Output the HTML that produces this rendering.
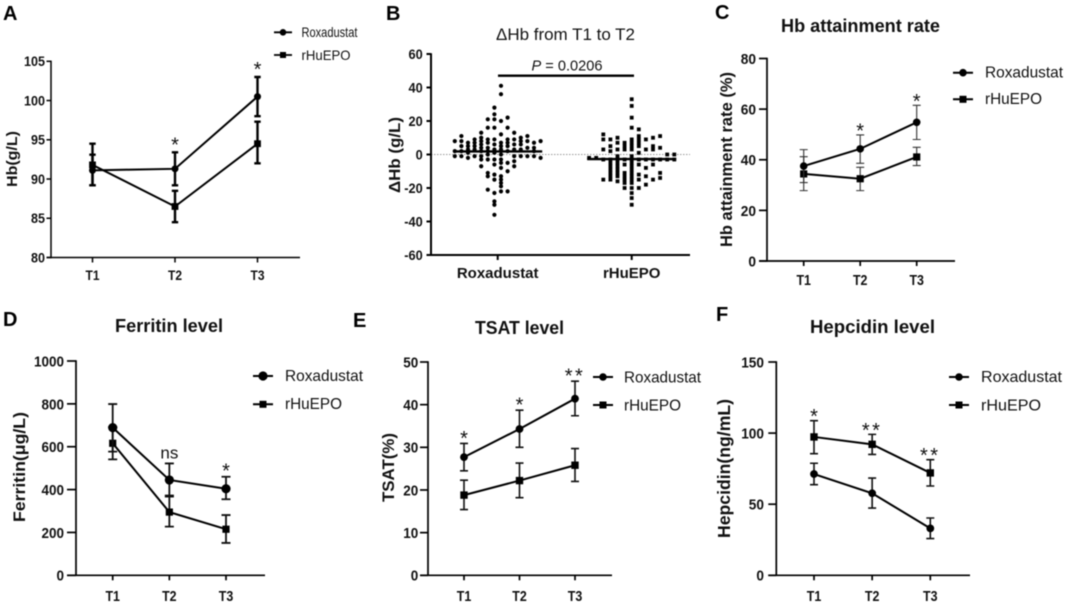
<!DOCTYPE html>
<html lang="en">
<head>
<meta charset="utf-8">
<title>Roxadustat vs rHuEPO</title>
<style>
html,body{margin:0;padding:0;background:#fff;}
#figure{display:block;width:1065px;height:604px;filter:blur(0.4px);}
text{font-family:"Liberation Sans",sans-serif;fill:#111;}
.letter{font-size:20px;font-weight:bold;fill:#000;}
.title{font-size:18px;font-weight:bold;text-anchor:middle;}
.ytitle{font-weight:bold;text-anchor:middle;}
.legend-text{font-size:16px;}
</style>
</head>
<body>
<svg id="figure" xmlns="http://www.w3.org/2000/svg" width="1065" height="604" viewBox="0 0 1065 604">
  <rect x="0" y="0" width="1065" height="604" fill="#fff"/>

  <text class="letter" x="3" y="20">A</text>
  <text class="letter" x="386" y="20">B</text>
  <text class="letter" x="715" y="19">C</text>
  <text class="letter" x="3" y="326">D</text>
  <text class="letter" x="353" y="327">E</text>
  <text class="letter" x="716" y="321">F</text>

  <text x="565.5" y="40" font-size="17" text-anchor="middle" textLength="139" lengthAdjust="spacingAndGlyphs">ΔHb from T1 to T2</text>
  <text class="title" x="860.5" y="32" textLength="159" lengthAdjust="spacingAndGlyphs">Hb attainment rate</text>
  <text class="title" x="169" y="332" textLength="108" lengthAdjust="spacingAndGlyphs">Ferritin level</text>
  <text class="title" x="519.5" y="334" textLength="89" lengthAdjust="spacingAndGlyphs">TSAT level</text>
  <text class="title" x="872.5" y="333" textLength="125" lengthAdjust="spacingAndGlyphs">Hepcidin level</text>

  <text class="ytitle" font-size="15" transform="translate(17,159) rotate(-90)" textLength="56" lengthAdjust="spacingAndGlyphs">Hb(g/L)</text>
  <text class="ytitle" font-size="16" transform="translate(400,155) rotate(-90)" textLength="76" lengthAdjust="spacingAndGlyphs">ΔHb (g/L)</text>
  <text class="ytitle" font-size="16.5" transform="translate(732,159.5) rotate(-90)" textLength="175" lengthAdjust="spacingAndGlyphs">Hb attainment rate (%)</text>
  <text class="ytitle" font-size="17" transform="translate(25,467) rotate(-90)" textLength="110" lengthAdjust="spacingAndGlyphs">Ferritin(μg/L)</text>
  <text class="ytitle" font-size="16.5" transform="translate(394,467.5) rotate(-90)" textLength="69" lengthAdjust="spacingAndGlyphs">TSAT(%)</text>
  <text class="ytitle" font-size="17.5" transform="translate(730,468.5) rotate(-90)" textLength="139" lengthAdjust="spacingAndGlyphs">Hepcidin(ng/mL)</text>

  <text x="567" y="70.7" font-size="15" text-anchor="middle" textLength="71" lengthAdjust="spacingAndGlyphs"><tspan font-style="italic">P</tspan> = 0.0206</text>
  <rect x="498" y="74.5" width="136" height="2.4" fill="#000"/>

  <g>
    <g>
      <line x1="274" x2="292" y1="32.3" y2="32.3" stroke="#000" stroke-width="1.8"/><circle cx="283" cy="32.3" r="3.3" fill="#000"/>
      <text x="301.5" y="37" font-size="14" textLength="56" lengthAdjust="spacingAndGlyphs">Roxadustat</text>
    </g>
    <g>
      <line x1="274" x2="292" y1="55" y2="55" stroke="#000" stroke-width="1.8"/><rect x="280" y="52" width="6" height="6" fill="#000"/>
      <text x="301.5" y="60" font-size="14" textLength="49" lengthAdjust="spacingAndGlyphs">rHuEPO</text>
    </g>
  </g>
  <g>
    <g>
      <line x1="953" x2="973" y1="72.7" y2="72.7" stroke="#000" stroke-width="2"/><circle cx="963" cy="72.7" r="3.8" fill="#000"/>
      <text class="legend-text" x="985" y="77.5" textLength="78" lengthAdjust="spacingAndGlyphs">Roxadustat</text>
    </g>
    <g>
      <line x1="953" x2="973" y1="99.3" y2="99.3" stroke="#000" stroke-width="2"/><rect x="959.5" y="95.8" width="7" height="7" fill="#000"/>
      <text class="legend-text" x="985" y="104" textLength="57" lengthAdjust="spacingAndGlyphs">rHuEPO</text>
    </g>
  </g>
  <g>
    <g>
      <line x1="253" x2="273" y1="376" y2="376" stroke="#000" stroke-width="2"/><circle cx="263" cy="376" r="4.6" fill="#000"/>
      <text class="legend-text" x="285" y="381" textLength="78" lengthAdjust="spacingAndGlyphs">Roxadustat</text>
    </g>
    <g>
      <line x1="253" x2="273" y1="404.3" y2="404.3" stroke="#000" stroke-width="2"/><rect x="259.5" y="400.8" width="7" height="7" fill="#000"/>
      <text class="legend-text" x="285" y="409" textLength="57" lengthAdjust="spacingAndGlyphs">rHuEPO</text>
    </g>
  </g>
  <g>
    <g>
      <line x1="593" x2="613" y1="377" y2="377" stroke="#000" stroke-width="2"/><circle cx="603" cy="377" r="3.8" fill="#000"/>
      <text class="legend-text" x="624" y="382.5" textLength="77" lengthAdjust="spacingAndGlyphs">Roxadustat</text>
    </g>
    <g>
      <line x1="593" x2="613" y1="405" y2="405" stroke="#000" stroke-width="2"/><rect x="599.5" y="401.5" width="7" height="7" fill="#000"/>
      <text class="legend-text" x="624" y="410.5" textLength="57" lengthAdjust="spacingAndGlyphs">rHuEPO</text>
    </g>
  </g>
  <g>
    <g>
      <line x1="949" x2="969" y1="377" y2="377" stroke="#000" stroke-width="2"/><circle cx="959" cy="377" r="3.8" fill="#000"/>
      <text class="legend-text" x="981" y="382" textLength="81" lengthAdjust="spacingAndGlyphs">Roxadustat</text>
    </g>
    <g>
      <line x1="949" x2="969" y1="405" y2="405" stroke="#000" stroke-width="2"/><rect x="955.5" y="401.5" width="7" height="7" fill="#000"/>
      <text class="legend-text" x="981" y="410.5" textLength="60" lengthAdjust="spacingAndGlyphs">rHuEPO</text>
    </g>
  </g>
</svg>
<script>
// ---- Shared categories ----
var timeCategories = ['T1', 'T2', 'T3'];

// ---- Panel A: Hb ----
var aTicks = [80, 85, 90, 95, 100, 105];
var aRoxMean = [91.1, 91.3, 100.5];
var aRoxUpper = [93.1, 93.4, 103];
var aRoxLower = [89.2, 89.2, 98];
var aEpoMean = [91.8, 86.5, 94.5];
var aEpoUpper = [94.5, 88.5, 97.3];
var aEpoLower = [89.2, 84.5, 92];
var aMarks = ['', '*', '*'];

// ---- Panel C: Hb attainment rate ----
var cTicks = [0, 20, 40, 60, 80];
var cRoxMean = [37.5, 44.3, 54.8];
var cRoxUpper = [44, 49.8, 61.5];
var cRoxLower = [31, 38.6, 48];
var cEpoMean = [34.4, 32.5, 41.1];
var cEpoUpper = [41.2, 37, 44.9];
var cEpoLower = [27.8, 27.8, 37.7];
var cMarks = ['', '*', '*'];

// ---- Panel D: Ferritin ----
var dTicks = [0, 200, 400, 600, 800, 1000];
var dRoxMean = [689, 445, 404];
var dRoxUpper = [799, 522, 460];
var dRoxLower = [577, 367, 355];
var dEpoMean = [616, 295, 215];
var dEpoUpper = [691, 372, 281];
var dEpoLower = [541, 227, 151];
var dMarks = ['', 'ns', '*'];

// ---- Panel E: TSAT ----
var eTicks = [0, 10, 20, 30, 40, 50];
var eRoxMean = [27.7, 34.3, 41.4];
var eRoxUpper = [30.9, 38.7, 45.5];
var eRoxLower = [24.5, 30, 37.4];
var eEpoMean = [18.8, 22.2, 25.8];
var eEpoUpper = [22.3, 26.3, 29.7];
var eEpoLower = [15.4, 18.2, 22];
var eMarks = ['*', '*', '**'];

// ---- Panel F: Hepcidin ----
var fTicks = [0, 50, 100, 150];
var fRoxMean = [71.2, 57.7, 33];
var fRoxUpper = [78.8, 68.4, 40.3];
var fRoxLower = [63.7, 47.3, 25.8];
var fEpoMean = [97.3, 92.1, 72];
var fEpoUpper = [108.7, 99.1, 81.3];
var fEpoLower = [85.5, 85, 62.8];
var fMarks = ['*', '**', '**'];

// ---- Panel B: individual change in Hb, one inner list per swarm column ----
var bCategories = ['Roxadustat', 'rHuEPO'];
var bTicks = [-60, -40, -20, 0, 20, 40, 60];
var bRoxMedian = 1.8;
var bEpoMedian = -2.7;
var bRoxColumns = [
  [8, 2, -1],
  [11, 8, 5, 2, -1],
  [7, 5, 3, 1, -2],
  [9, 7, 5, 3, -1],
  [13, 10, 8, 6, 4, 2, -1, -3, -7],
  [21, 16, 9, 7, 4, 2, 0, -3, -11, -13, -21],
  [28, 24, 21, 16, 9, 6, 3, 1, -3, -6, -12, -15, -23, -28, -30, -36],
  [41, 36, 20, 12, 7, 5, 3, 0, -3, -5, -8, -13, -15, -17, -19, -22],
  [22, 16, 9, 7, 5, 2, -5, -10, -22],
  [13, 9, 6, 3, -1, -4, -7],
  [10, 8, 6, 3, -1],
  [11, 8, 4, -1],
  [7, 4, 2, -1],
  [8, -2]
];
var bEpoColumns = [
  [-2],
  [-2],
  [12, 9, 3, -3, -15],
  [9, 5, 2, -3, -5, -7, -9, -11, -13, -15],
  [10, 7, 3, -1, -3, -5, -7, -9, -11, -13, -16],
  [7, 5, 3, -3, -6, -11, -13, -15, -17, -20],
  [33, 29, 22, 16, 9, 7, 5, 3, -1, -3, -5, -7, -9, -11, -13, -15, -17, -20, -23, -26, -30],
  [15, 11, 9, 7, 5, 1, -3, -6, -12, -15, -20],
  [9, 3, -3, -8, -13, -18],
  [10, 5, 3, -3, -6, -15],
  [11, 4, -3, -11, -14],
  [0, -3],
  [0, -3]
];

var SVG_NS = 'http://www.w3.org/2000/svg';
var figure = document.getElementById('figure');
var INK = '#000';

function setAll(el, attrs) {
  for (var k in attrs) { el.setAttribute(k, attrs[k]); }
  return el;
}
function make(tag, parent, attrs) {
  var el = document.createElementNS(SVG_NS, tag);
  setAll(el, attrs);
  parent.appendChild(el);
  return el;
}
function linearScale(d0, d1, r0, r1) {
  return function (v) { return r0 + (v - d0) * (r1 - r0) / (d1 - d0); };
}
function tickTextWidth(value, charW) {
  var s = String(value);
  var digits = s.replace('-', '').length;
  return digits * charW + (s.charAt(0) === '-' ? charW * 0.6 : 0);
}

function drawAxes(p, group, yScale, xScale, ticks, cats) {
  var yAxis = make('line', group, {x1: p.axisX, x2: p.axisX, y1: p.yTop - 0.7, y2: p.yBottom + 0.7, stroke: INK, 'stroke-width': p.axisW});
  
  
  var xAxis = make('line', group, {x1: p.axisX - p.tickLen, x2: p.axisEnd, y1: p.yBottom, y2: p.yBottom, stroke: INK, 'stroke-width': p.axisW});
  
  
  ticks.forEach(function (t) {
    var y = yScale(t);
    var tick = make('line', group, {x1: p.axisX - p.tickLen, x2: p.axisX, y1: y, y2: y, stroke: INK, 'stroke-width': p.axisW});
    
    
    var label = make('text', group, {x: p.labelRight, y: y + p.tickFont * 0.36, 'font-size': p.tickFont, 'font-weight': 'bold', 'text-anchor': 'end', textLength: tickTextWidth(t, p.digitW), lengthAdjust: 'spacingAndGlyphs'});
    
    
    label.textContent = t;
  });
  cats.forEach(function (c, i) {
    var x = xScale(i);
    var tick = make('line', group, {x1: x, x2: x, y1: p.yBottom, y2: p.yBottom + 5, stroke: INK, 'stroke-width': p.axisW});
    
    
    var label = make('text', group, {x: x, y: p.catBase, 'font-size': p.catFont, 'font-weight': 'bold', 'text-anchor': 'middle'});
    if (p.catW) {
      label.setAttribute('textLength', p.catW);
      label.setAttribute('lengthAdjust', 'spacingAndGlyphs');
    }
    
    
    label.textContent = c;
  });
}

function drawSeries(p, group, name, shape, mean, upper, lower, xScale, yScale) {
  var series = make('g', group, {});
  
  
  var pts = mean.map(function (v, i) { return xScale(i) + ',' + yScale(v); }).join(' ');
  var line = make('polyline', series, {points: pts, fill: 'none', stroke: INK, 'stroke-width': p.lineW});
  
  
  mean.forEach(function (v, i) {
    var x = xScale(i);
    var yU = yScale(upper[i]);
    var yL = yScale(lower[i]);
    var err = make('path', series, {d: 'M' + x + ' ' + yU + 'V' + yL + 'M' + (x - p.capHalf) + ' ' + yU + 'H' + (x + p.capHalf) + 'M' + (x - p.capHalf) + ' ' + yL + 'H' + (x + p.capHalf), fill: 'none', stroke: p.errColor, 'stroke-width': p.errW});
    
    
    var marker;
    if (shape === 'circle') {
      marker = make('circle', series, {cx: x, cy: yScale(v), r: p.dotR, fill: INK});
    } else {
      marker = make('rect', series, {x: x - p.squareHalf, y: yScale(v) - p.squareHalf, width: p.squareHalf * 2, height: p.squareHalf * 2, fill: INK});
    }
    
    
  });
}

function drawLinePanel(p, ticks, roxMean, roxUpper, roxLower, epoMean, epoUpper, epoLower, marks) {
  var group = make('g', figure, {});
  
  
  var yScale = linearScale(ticks[0], ticks[ticks.length - 1], p.yBottom, p.yTop);
  var xScale = linearScale(0, timeCategories.length - 1, p.xFirst, p.xLast);
  drawAxes(p, group, yScale, xScale, ticks, timeCategories);
  drawSeries(p, group, 'rhuepo', 'square', epoMean, epoUpper, epoLower, xScale, yScale);
  drawSeries(p, group, 'roxadustat', 'circle', roxMean, roxUpper, roxLower, xScale, yScale);
  marks.forEach(function (m, i) {
    if (!m) { return; }
    var top = yScale(Math.max(roxUpper[i], epoUpper[i]));
    var isNs = m === 'ns';
    var mark = make('text', group, {x: xScale(i), y: isNs ? top - 5 : top - p.starGap + 10, 'font-size': isNs ? 17 : 20, 'text-anchor': 'middle'});
    if (m === '**') { mark.setAttribute('letter-spacing', '2.5'); }
    
    
    mark.textContent = m;
  });
}

function drawSwarm(group, name, shape, columns, center, spacing, yScale) {
  var swarm = make('g', group, {});
  
  
  columns.forEach(function (col, c) {
    var x = center + (c - (columns.length - 1) / 2) * spacing;
    col.forEach(function (v) {
      var dot;
      if (shape === 'circle') {
        dot = make('circle', swarm, {cx: x, cy: yScale(v), r: 2.1, fill: INK});
      } else {
        dot = make('rect', swarm, {x: x - 1.9, y: yScale(v) - 1.9, width: 3.8, height: 3.8, fill: INK});
      }
      
      
    });
  });
}

function drawSwarmPanel() {
  var p = {axisX: 431, axisEnd: 690, yTop: 54, yBottom: 255, tickLen: 4.5, axisW: 2, labelRight: 422.7, tickFont: 14, digitW: 7.1, catBase: 278, catFont: 15};
  var group = make('g', figure, {});
  
  
  var yScale = linearScale(-60, 60, p.yBottom, p.yTop);
  var xScale = linearScale(0, 1, 497.7, 631.7);
  var zero = make('line', group, {x1: p.axisX, x2: 690, y1: yScale(0), y2: yScale(0), stroke: '#999', 'stroke-width': 1, 'stroke-dasharray': '1.5 1.5'});
  
  
  drawAxes(p, group, yScale, xScale, bTicks, bCategories);
  drawSwarm(group, 'roxadustat', 'circle', bRoxColumns, xScale(0), 6.6, yScale);
  drawSwarm(group, 'rhuepo', 'square', bEpoColumns, xScale(1), 7.1, yScale);
  var roxMedian = make('line', group, {x1: xScale(0) - 44.5, x2: xScale(0) + 44.5, y1: yScale(bRoxMedian), y2: yScale(bRoxMedian), stroke: INK, 'stroke-width': 2.4});
  
  
  var epoMedian = make('line', group, {x1: xScale(1) - 44.5, x2: xScale(1) + 44.5, y1: yScale(bEpoMedian), y2: yScale(bEpoMedian), stroke: INK, 'stroke-width': 2.4});
  
  
}

drawLinePanel(
  {name: 'panel-a-hb', axisX: 51, axisEnd: 300, yTop: 61.3, yBottom: 257.5, xFirst: 92.5, xLast: 257.5, tickLen: 4.5, axisW: 1.5, labelRight: 45, tickFont: 13.5, digitW: 7, catBase: 280, catFont: 14, catW: 14, lineW: 2, errW: 2.4, errColor: INK, capHalf: 3.2, dotR: 3.5, squareHalf: 3.4, starGap: 11},
  aTicks, aRoxMean, aRoxUpper, aRoxLower, aEpoMean, aEpoUpper, aEpoLower, aMarks
);
drawSwarmPanel();
drawLinePanel(
  {name: 'panel-c-hb-attainment', axisX: 767, axisEnd: 955, yTop: 58.5, yBottom: 261, xFirst: 803.7, xLast: 916.7, tickLen: 8, axisW: 1.7, labelRight: 756, tickFont: 15, digitW: 7.65, catBase: 285, catFont: 15, catW: 14.5, lineW: 2, errW: 1.1, errColor: '#333', capHalf: 4, dotR: 3.8, squareHalf: 3.6, starGap: 7.5},
  cTicks, cRoxMean, cRoxUpper, cRoxLower, cEpoMean, cEpoUpper, cEpoLower, cMarks
);
drawLinePanel(
  {name: 'panel-d-ferritin', axisX: 76, axisEnd: 265, yTop: 361, yBottom: 575.3, xFirst: 112.7, xLast: 226, tickLen: 9, axisW: 1.7, labelRight: 64, tickFont: 15, digitW: 7.5, catBase: 601, catFont: 15, catW: 14.5, lineW: 2, errW: 1.8, errColor: '#111', capHalf: 4.5, dotR: 4.6, squareHalf: 3.6, starGap: 9},
  dTicks, dRoxMean, dRoxUpper, dRoxLower, dEpoMean, dEpoUpper, dEpoLower, dMarks
);
drawLinePanel(
  {name: 'panel-e-tsat', axisX: 428, axisEnd: 612, yTop: 362, yBottom: 575.3, xFirst: 464, xLast: 575, tickLen: 8, axisW: 1.7, labelRight: 418.3, tickFont: 15, digitW: 7.5, catBase: 601, catFont: 15, catW: 14.5, lineW: 2, errW: 1.6, errColor: '#111', capHalf: 4, dotR: 3.9, squareHalf: 3.7, starGap: 8.5},
  eTicks, eRoxMean, eRoxUpper, eRoxLower, eEpoMean, eEpoUpper, eEpoLower, eMarks
);
drawLinePanel(
  {name: 'panel-f-hepcidin', axisX: 776.3, axisEnd: 970, yTop: 362, yBottom: 575.3, xFirst: 814, xLast: 930.3, tickLen: 8, axisW: 1.7, labelRight: 764, tickFont: 15, digitW: 7.6, catBase: 601, catFont: 15, catW: 14.5, lineW: 2, errW: 1.6, errColor: '#111', capHalf: 4, dotR: 3.9, squareHalf: 3.7, starGap: 7.5},
  fTicks, fRoxMean, fRoxUpper, fRoxLower, fEpoMean, fEpoUpper, fEpoLower, fMarks
);
</script>
</body>
</html>
